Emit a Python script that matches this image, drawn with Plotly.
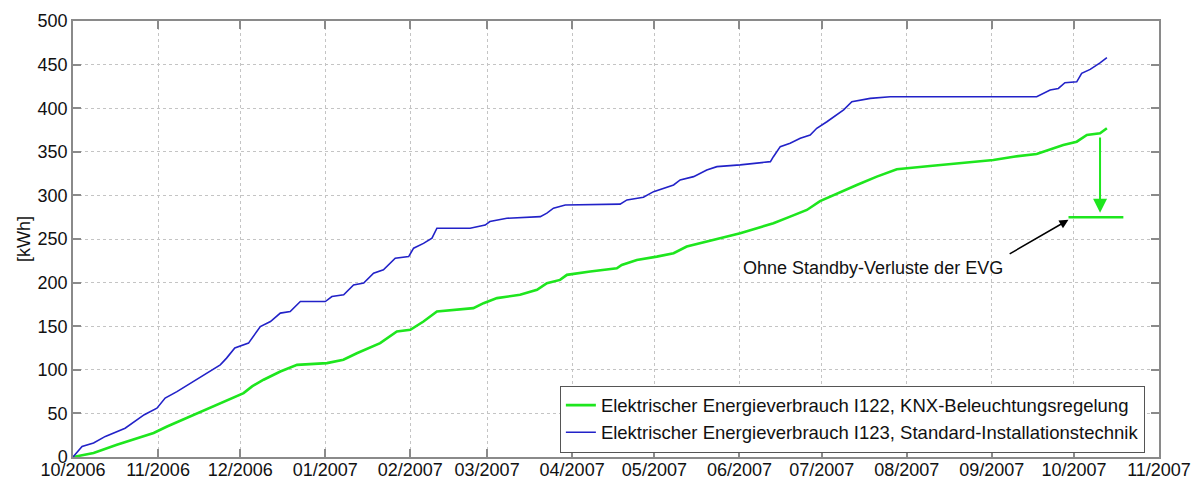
import pandas as pd
import plotly.graph_objects as go

START = "2006-10-01"

# Blue: Standard-Installationstechnik (days since start, kWh)
blue_days = [0, 3.3, 7.5, 11.8, 19, 26, 30.6, 33.6, 37.9, 53.7, 56, 59, 64, 68.3, 72, 75.6, 79.2,
             82.9, 92, 94.4, 98.7, 102.3, 106, 109.6, 113.2, 117.5, 122.4, 124.2, 127.8, 130.9,
             132.7, 144.8, 150.3, 152, 158.2, 170.4, 172.8, 175.2, 179.5, 199.5, 202, 208, 211.7,
             214.1, 219, 221.4, 226.3, 231.1, 234.8, 243.3, 254.3, 255.4, 257.9, 261.5, 265.2,
             268.8, 271.2, 274.9, 278.5, 281, 284, 290.7, 298, 351.4, 356.3, 359.3, 361.7, 366,
             367.8, 370.9, 374.5, 377]
blue_vals = [0, 12, 16, 23.6, 33, 48.5, 56, 67.6, 75, 105.7, 113.4, 125, 130.6, 149.6, 155.4, 165,
             166.8, 178.3, 178.3, 184, 186, 197.4, 199.4, 210.8, 214.6, 228, 229.8, 239.5, 245, 251,
             262.4, 262.4, 266, 270, 273.8, 275.7, 279.6, 285.3, 289, 290, 294.8, 297.9, 304.3,
             307, 312, 317.7, 321.5, 329.2, 333, 335, 338.7, 344.4, 355.9, 359.8, 365.5, 369.3,
             377, 384.5, 392.2, 398, 407.4, 411.3, 413.2, 413.2, 420.8, 422.7, 429.2, 430.3, 440,
             444.5, 452, 457.9]

# Green: KNX-Beleuchtungsregelung
green_days = [0, 7.5, 16, 23.3, 29.4, 34.3, 44, 56, 62.2, 65.3, 69.5, 75.6, 81.7, 92.6, 98.6,
              103.5, 112, 118.1, 123, 127.8, 132.7, 146, 149.7, 154.6, 163, 169.2, 172.8, 177.6,
              180.1, 188.6, 198.3, 200.1, 205.6, 212.9, 219, 223.8, 233.5, 243.3, 249.4, 255.4,
              261.5, 267.6, 272.4, 277.3, 285.8, 293.1, 300.4, 312.5, 324.7, 335.6, 343, 351.4,
              361.1, 366, 369.7, 374.5, 377]
green_vals = [0, 4.6, 14, 21.8, 27.5, 35, 48.5, 65.6, 73.3, 81, 88.6, 98, 105.7, 107.7, 111.5,
              119, 130.6, 143.9, 145.8, 155.4, 166.8, 170.7, 176.4, 182.2, 186, 191.7, 199.4,
              203.1, 208.9, 212.7, 216.5, 220.3, 226, 229.8, 233.7, 241.3, 249, 256.6, 262.4,
              268.1, 275.7, 283.3, 293.5, 300.5, 312, 321.5, 330, 333.7, 337.5, 340.6, 344.4,
              347.5, 357.8, 361.6, 369.3, 371.2, 377]

# Value without standby losses
nostandby_days = [363, 383]
nostandby_vals = [275, 275]
arrow_day = 374.5
arrow_from = 368
arrow_to = 280

name_green = "Elektrischer Energieverbrauch I122, KNX-Beleuchtungsregelung"
name_blue = "Elektrischer Energieverbrauch I123, Standard-Installationstechnik"
note_text = "Ohne Standby-Verluste der EVG"


def to_dates(days):
    return pd.Timestamp(START) + pd.to_timedelta(days, unit="D")


GREEN = "#1ee61e"
BLUE = "#2222c8"
FONT = "Liberation Sans, Arial, sans-serif"

fig = go.Figure()
fig.add_trace(go.Scatter(x=to_dates(green_days), y=green_vals, mode="lines", name=name_green,
                         line=dict(color=GREEN, width=2.6)))
fig.add_trace(go.Scatter(x=to_dates(blue_days), y=blue_vals, mode="lines", name=name_blue,
                         line=dict(color=BLUE, width=1.6)))
fig.add_trace(go.Scatter(x=to_dates(nostandby_days), y=nostandby_vals, mode="lines",
                         showlegend=False, line=dict(color=GREEN, width=2.6)))

ad = to_dates([arrow_day])[0]
fig.add_annotation(x=ad, y=arrow_to, ax=ad, ay=arrow_from, axref="x", ayref="y", xref="x", yref="y",
                   text="", showarrow=True, arrowhead=2, arrowsize=1.4, arrowwidth=2,
                   arrowcolor=GREEN)
fig.add_annotation(x=to_dates([363])[0], y=272, ax=to_dates([341])[0], ay=232,
                   axref="x", ayref="y", xref="x", yref="y", text="", showarrow=True,
                   arrowhead=2, arrowsize=1.2, arrowwidth=1.5, arrowcolor="black")
fig.add_annotation(x=to_dates([340])[0], y=217, xref="x", yref="y", text=note_text,
                   showarrow=False, xanchor="right", yanchor="middle",
                   font=dict(family=FONT, size=18, color="#111"))

axis_common = dict(showline=True, linecolor="#8a8a8a", linewidth=1.5, mirror="ticks",
                   ticks="inside", ticklen=8, tickcolor="#8a8a8a", tickwidth=1.5,
                   showgrid=True, gridcolor="#c4c4c4", griddash="dot", gridwidth=1,
                   zeroline=False, automargin=False,
                   tickfont=dict(family=FONT, size=18, color="#111"))

fig.update_xaxes(type="date", range=["2006-10-01", "2007-11-01"], dtick="M1",
                 tick0="2006-10-01", tickformat="%m/%Y", ticklabelstandoff=-4, **axis_common)
fig.update_yaxes(range=[0, 500], dtick=50, ticklabelstandoff=0,
                 title=dict(text="[kWh]", standoff=2,
                            font=dict(family=FONT, size=18, color="#111")), **axis_common)

fig.update_layout(
    width=1204, height=482,
    margin=dict(l=73, r=45, t=21, b=25),
    paper_bgcolor="white", plot_bgcolor="white",
    font=dict(family=FONT, size=18, color="#111"),
    legend=dict(x=0.987, y=0.01, xanchor="right", yanchor="bottom",
                bgcolor="white", bordercolor="#555", borderwidth=1,
                font=dict(family=FONT, size=18.5, color="#111"),
                tracegroupgap=0, itemwidth=30),
    showlegend=True,
)

fig.write_html("out.html", config={"displayModeBar": False},
               post_script="document.body.style.margin='0';document.body.style.overflow='hidden';")
